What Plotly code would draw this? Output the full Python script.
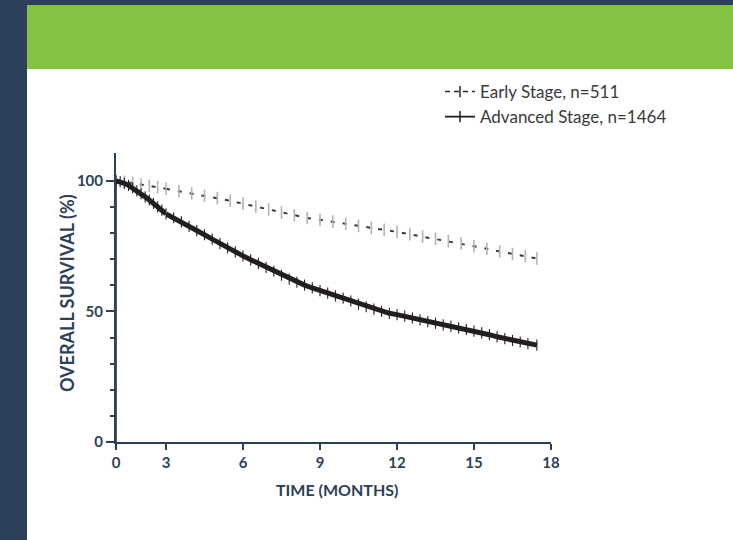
import plotly.graph_objects as go

# ---------------- data ----------------
time_early = [0, 0.5, 1.0, 1.5, 2.0, 2.5, 3.0, 3.5, 4.0, 4.5, 5.0, 5.5, 6.0, 6.5, 7.0, 7.5,
              8.0, 8.5, 9.0, 9.5, 10.0, 10.5, 11.0, 11.5, 12.0, 12.5, 13.0, 13.5, 14.0,
              14.5, 15.0, 15.5, 16.0, 16.5, 17.0, 17.45]
surv_early = [100, 99.7, 99.2, 98.6, 98.1, 97.6, 97.0, 96.1, 95.2, 94.3, 93.4, 92.4, 91.3,
              90.2, 89.1, 87.9, 86.8, 85.8, 85.1, 84.4, 83.6, 82.8, 82.0, 81.3, 80.5, 79.6,
              78.7, 77.8, 76.9, 76.0, 75.0, 74.0, 73.0, 72.0, 71.2, 70.3]

time_adv = [0, 0.25, 0.5, 0.75, 1.0, 1.25, 1.5, 1.75, 2.0, 2.25, 2.5, 2.75, 3.0, 3.3, 3.6,
            3.9, 4.2, 4.5, 4.8, 5.1, 5.4, 5.7, 6.0, 6.3, 6.6, 6.9, 7.2, 7.5, 7.8, 8.1, 8.4,
            8.7, 9.0, 9.3, 9.6, 9.9, 10.2, 10.5, 10.8, 11.1, 11.4, 11.7, 12.0, 12.3, 12.6,
            12.9, 13.2, 13.5, 13.8, 14.1, 14.4, 14.7, 15.0, 15.3, 15.6, 15.9, 16.2, 16.5,
            16.8, 17.1, 17.45]
surv_adv = [100, 99.7, 99.1, 98.3, 97.3, 96.2, 95.1, 93.9, 92.7, 91.4, 90.1, 88.8, 87.4,
            85.9, 84.3, 82.6, 81.0, 79.4, 77.7, 76.0, 74.4, 72.8, 71.3, 69.8, 68.4, 66.9,
            65.4, 63.9, 62.4, 61.2, 60.1, 59.0, 58.0, 57.0, 56.0, 55.1, 54.0, 52.8, 51.8,
            50.9, 50.0, 49.3, 48.8, 48.2, 47.5, 46.8, 46.1, 45.5, 44.9, 44.3, 43.7, 43.1,
            42.5, 41.8, 41.1, 40.3, 39.6, 38.9, 38.3, 37.7, 37.1]

label_early = "Early Stage, n=511"
label_adv = "Advanced Stage, n=1464"

x_ticks_first = [0]
x_ticks_rest = [3, 6, 9, 12, 15, 18]
y_ticks = [0, 50, 100]
y_minor = [10, 20, 30, 40, 60, 70, 80, 90]
x_title = "TIME (MONTHS)"
y_title = "OVERALL SURVIVAL (%)"

# ---------------- styling ----------------
NAVY = "#2c4159"
GREEN = "#83c341"
W, H = 733, 540
L, R, T, B = 116, 182, 153, 98
PW, PH = W - L - R, H - T - B
BREAK = 3
split = (166 - L) / PW   # the 0-3 segment of the axis is compressed

def seg(t, s, first):
    pts = [(a, b) for a, b in zip(t, s) if (a <= BREAK if first else a >= BREAK)]
    return [p[0] for p in pts], [p[1] for p in pts]

fig = go.Figure()

styles = {
    "early": dict(line=dict(color="#3a3a3a", width=2, dash="4px,8px"),
                  marker=dict(symbol="line-ns", size=9,
                              line=dict(color="#b3b3b3", width=1.6), color="#b3b3b3")),
    "adv": dict(line=dict(color="#231f20", width=5),
                marker=dict(symbol="line-ns", size=8,
                            line=dict(color="#231f20", width=1.1), color="#231f20")),
}
legend_styles = {
    "early": dict(line=dict(color="#2a2a2a", width=1.6, dash="5px,4px"),
                  marker=dict(symbol="line-ns", size=8,
                              line=dict(color="#2a2a2a", width=1.5))),
    "adv": dict(line=dict(color="#231f20", width=1.8),
                marker=dict(symbol="line-ns", size=8,
                            line=dict(color="#231f20", width=1.5))),
}

for key, t, s, name in [("early", time_early, surv_early, label_early),
                        ("adv", time_adv, surv_adv, label_adv)]:
    for first in (True, False):
        xs, ys = seg(t, s, first)
        fig.add_trace(go.Scatter(
            x=xs, y=ys, mode="lines+markers", name=name,
            xaxis="x" if first else "x2", yaxis="y",
            showlegend=False, legendgroup=key,
            line=styles[key]["line"], marker=styles[key]["marker"],
            hoverinfo="skip"))
    # legend-only entry (thin symbol, like the reference key)
    fig.add_trace(go.Scatter(
        x=[None], y=[None], mode="lines+markers", name=name, xaxis="x2", yaxis="y",
        legendgroup=key, showlegend=True,
        line=legend_styles[key]["line"], marker=legend_styles[key]["marker"]))

tickfont = dict(family="Lato, sans-serif", size=15, color=NAVY, weight="bold")
axis_common = dict(showgrid=False, zeroline=False, showline=True, linecolor=NAVY,
                   linewidth=2, ticks="outside", ticklen=6, tickwidth=2, tickcolor=NAVY,
                   tickfont=tickfont, anchor="y")

fig.update_layout(
    width=W, height=H,
    margin=dict(l=L, r=R, t=T, b=B),
    paper_bgcolor=NAVY, plot_bgcolor="rgba(0,0,0,0)",
    xaxis=dict(domain=[0, split], range=[0, BREAK], tickvals=x_ticks_first, **axis_common),
    xaxis2=dict(domain=[split, 1], range=[BREAK, 18], tickvals=x_ticks_rest, **axis_common),
    yaxis=dict(range=[0, 110.7], tickvals=y_ticks, anchor="x", showgrid=False,
               zeroline=False, showline=True, linecolor=NAVY, linewidth=2,
               ticks="outside", ticklen=8, tickwidth=2, tickcolor=NAVY,
               tickfont=tickfont,
               minor=dict(tickvals=y_minor, ticks="outside", ticklen=4, tickwidth=1.5,
                          tickcolor=NAVY)),
    legend=dict(x=(440 - L) / PW, y=(442 - 74) / PH, xanchor="left", yanchor="top",
                bgcolor="rgba(0,0,0,0)", tracegroupgap=0,
                font=dict(family="Lato, sans-serif", size=17, color="#3a3a3a")),
    shapes=[
        dict(type="rect", xref="paper", yref="paper", layer="below",
             x0=(27 - L) / PW, x1=1.6, y0=-0.6, y1=(442 - 69) / PH,
             fillcolor="white", line=dict(width=0)),
        dict(type="rect", xref="paper", yref="paper", layer="below",
             x0=(27 - L) / PW, x1=1.6, y0=(442 - 69) / PH, y1=(442 - 5) / PH,
             fillcolor=GREEN, line=dict(width=0)),
        dict(type="line", xref="x", yref="y", x0=0, x1=0, y0=0, y1=100,
             line=dict(color="#231f20", width=1.5)),
    ],
    annotations=[
        dict(text=x_title, xref="paper", yref="paper", x=(337 - L) / PW,
             y=(442 - 490) / PH, xanchor="center", yanchor="middle", showarrow=False,
             font=dict(family="Lato, sans-serif", size=16, color=NAVY, weight="bold")),
        dict(text=y_title, xref="paper", yref="paper", x=(67 - L) / PW,
             y=(442 - 293) / PH, xanchor="center", yanchor="middle", showarrow=False,
             textangle=-90,
             font=dict(family="Lato, sans-serif", size=18, color=NAVY, weight="bold")),
    ],
)

fig.write_html("out.html", config={"displayModeBar": False},
               post_script="document.body.style.margin='0';")
